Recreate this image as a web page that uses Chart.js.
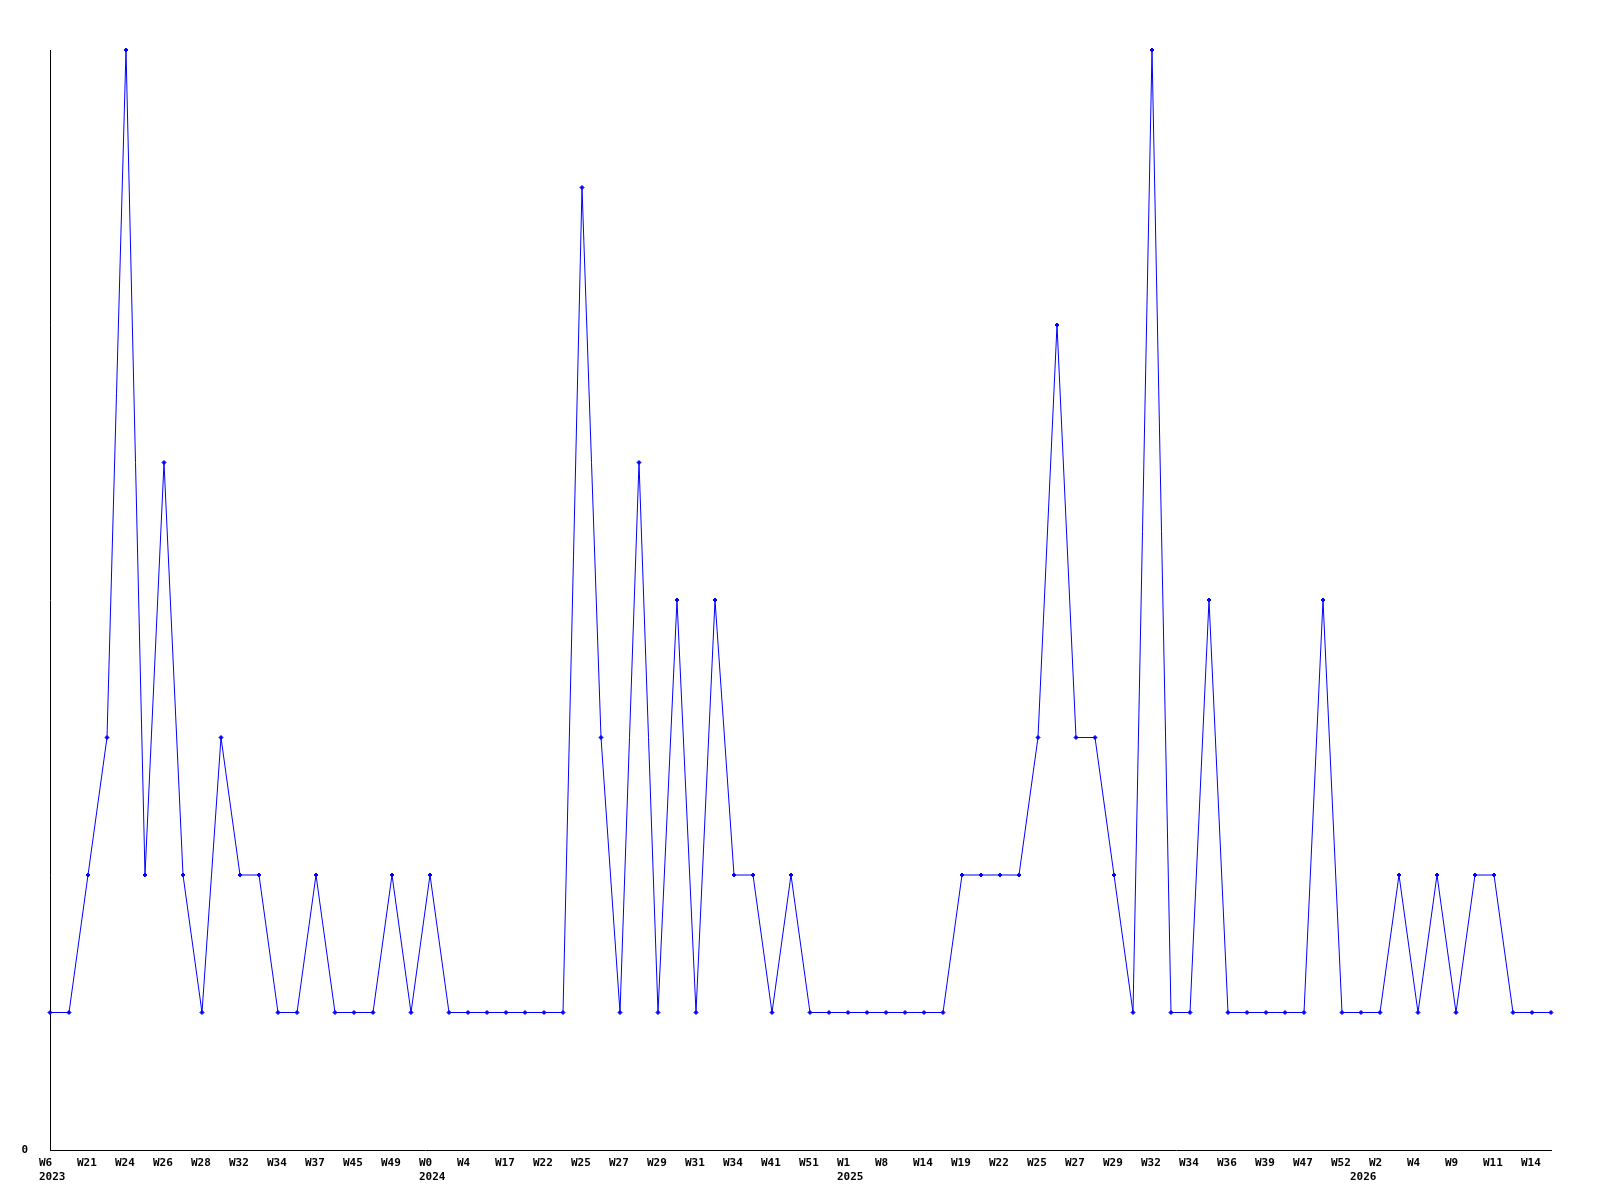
<!DOCTYPE html>
<html>
	<head>
		<meta charset="UTF-8" />
		<title>Weekly count</title>
		<style type="text/css">
			body {
				margin: 0;
				background: #ffffff;
			}
			.chartBox {
				width: 1600px;
				height: 1200px;
			}
		</style>
	</head>
	<body>
		<div class="chartBox">
			<canvas id="myChart"></canvas>
		</div>

		<script src="https://cdn.jsdelivr.net/npm/chart.js@4/dist/chart.umd.min.js"></script>
		<script>
			// week labels, only every other point carries one in the picture
			var weekLabels = [
				'W6', '', 'W21', '', 'W24', '', 'W26', '', 'W28', '', 'W32', '', 'W34', '', 'W37', '', 'W45', '', 'W49', '',
				'W0', '', 'W4', '', 'W17', '', 'W22', '', 'W25', '', 'W27', '', 'W29', '', 'W31', '', 'W34', '', 'W41', '',
				'W51', '', 'W1', '', 'W8', '', 'W14', '', 'W19', '', 'W22', '', 'W25', '', 'W27', '', 'W29', '', 'W32', '',
				'W34', '', 'W36', '', 'W39', '', 'W47', '', 'W52', '', 'W2', '', 'W4', '', 'W9', '', 'W11', '', 'W14', ''
			];
			// year shown under the point where a new year starts
			var yearIndex = [0, 20, 42, 69];
			var yearNames = ['2023', '2024', '2025', '2026'];

			var counts = [
				1, 1, 2, 3, 8, 2, 5, 2, 1, 3, 2, 2, 1, 1, 2, 1, 1, 1, 2, 1,
				2, 1, 1, 1, 1, 1, 1, 1, 7, 3, 1, 5, 1, 4, 1, 4, 2, 2, 1, 2,
				1, 1, 1, 1, 1, 1, 1, 1, 2, 2, 2, 2, 3, 6, 3, 3, 2, 1, 8, 1,
				1, 4, 1, 1, 1, 1, 1, 4, 1, 1, 1, 2, 1, 2, 1, 2, 2, 1, 1, 1
			];
		</script>

		<script>
		const ctx = document.getElementById('myChart').getContext('2d');
		const tickFont = {
			family: "'DejaVu Sans Mono', monospace",
			size: 11,
			weight: 'bold',
			lineHeight: 1.3
		};

		const config = {
			type: 'line',
			data: {
				labels: weekLabels,
				datasets: [{
					label: 'count',
					data: counts,
					borderColor: '#0000ff',
					borderWidth: 1,
					tension: 0,
					pointStyle: 'rectRot',
					radius: 2,
					pointBackgroundColor: '#0000ff',
					pointBorderColor: '#0000ff',
					pointBorderWidth: 1,
					clip: false
				}]
			},
			options: {
				responsive: true,
				maintainAspectRatio: false,
				animation: false,
				layout: {
					padding: { top: 50, right: 49, left: 0, bottom: 0 }
				},
				plugins: {
					legend: { display: false },
					tooltip: { enabled: false }
				},
				scales: {
					x: {
						type: 'category',
						offset: false,
						grid: { display: false, drawTicks: false },
						border: { display: true, color: '#000000', width: 1 },
						afterFit: function (scale) { scale.height = 50; },
						ticks: {
							autoSkip: false,
							maxRotation: 0,
							minRotation: 0,
							align: 'start',
							labelOffset: -11,
							padding: 6,
							color: '#000000',
							font: tickFont,
							callback: function (value, index) {
								var y = yearIndex.indexOf(index);
								var w = weekLabels[index];
								if (y >= 0) return [w, yearNames[y]];
								return w === '' ? null : w;
							}
						}
					},
					y: {
						min: 0,
						max: 8,
						grid: { display: false, drawTicks: false },
						border: { display: true, color: '#000000', width: 1 },
						afterFit: function (scale) { scale.width = 50; },
						ticks: {
							stepSize: 1,
							padding: 22,
							color: '#000000',
							font: tickFont,
							callback: function (value) {
								return value === 0 ? '0' : null;
							}
						}
					}
				}
			}
		};

		const myChart = new Chart(ctx, config);
		</script>
	</body>
</html>
